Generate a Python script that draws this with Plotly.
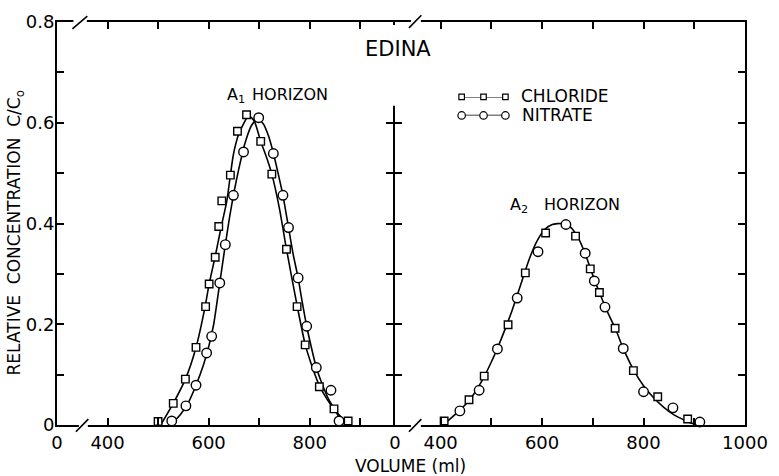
import plotly.graph_objects as go

# ---------------- data ----------------
# A1 horizon, measured points
A1_CL_VOL = [500, 530, 554, 575, 594, 601, 613, 620, 626, 643, 657, 675, 703, 725, 754, 775, 791, 819, 848, 876]
A1_CL_C = [0.007, 0.043, 0.091, 0.154, 0.235, 0.28, 0.333, 0.394, 0.445, 0.496, 0.583, 0.616, 0.563, 0.498,
           0.349, 0.235, 0.159, 0.076, 0.032, 0.008]
A1_NO_VOL = [527, 555, 575, 596, 606, 622, 633, 649, 669, 699, 728, 747, 758, 777, 794, 813, 842, 858]
A1_NO_C = [0.008, 0.038, 0.079, 0.143, 0.176, 0.282, 0.358, 0.456, 0.542, 0.61, 0.539, 0.456, 0.392, 0.292,
           0.196, 0.114, 0.069, 0.008]
# A1 horizon, fitted curves
A1_CL_FIT_VOL = [505, 530, 554, 575, 593, 601, 613, 625, 636, 643, 649, 659, 669, 679, 690, 703, 715, 725,
                 740, 754, 775, 791, 805, 819, 835, 848, 862, 878]
A1_CL_FIT_C = [0.0, 0.043, 0.091, 0.154, 0.235, 0.28, 0.335, 0.394, 0.445, 0.496, 0.537, 0.576, 0.598, 0.614,
               0.604, 0.563, 0.53, 0.498, 0.43, 0.349, 0.237, 0.16, 0.115, 0.078, 0.05, 0.032, 0.016, 0.0]
A1_NO_FIT_VOL = [525, 545, 560, 575, 590, 600, 610, 622, 633, 641, 649, 660, 672, 685, 697, 708, 718, 728,
                 738, 747, 758, 767, 777, 785, 794, 803, 813, 825, 838, 850, 860, 870]
A1_NO_FIT_C = [0.0, 0.022, 0.045, 0.079, 0.12, 0.155, 0.2, 0.282, 0.358, 0.41, 0.456, 0.51, 0.56, 0.595, 0.608,
               0.598, 0.575, 0.54, 0.497, 0.456, 0.392, 0.34, 0.292, 0.245, 0.196, 0.155, 0.114, 0.08, 0.05,
               0.03, 0.012, 0.0]

# A2 horizon, measured points
A2_CL_VOL = [407, 456, 486, 533, 567, 607, 666, 695, 713, 744, 780, 828, 887]
A2_CL_C = [0.008, 0.05, 0.097, 0.199, 0.302, 0.381, 0.375, 0.31, 0.263, 0.192, 0.108, 0.056, 0.012]
A2_NO_VOL = [438, 476, 512, 551, 592, 647, 685, 703, 724, 760, 800, 858, 911]
A2_NO_C = [0.028, 0.069, 0.151, 0.252, 0.344, 0.398, 0.341, 0.286, 0.234, 0.152, 0.066, 0.034, 0.006]
# A2 horizon, fitted curve
A2_FIT_VOL = [405, 430, 455, 480, 500, 520, 540, 560, 575, 590, 605, 620, 640, 655, 670, 685, 700, 715, 730,
              745, 760, 780, 800, 820, 840, 860, 880, 900, 912]
A2_FIT_C = [0.0, 0.022, 0.047, 0.085, 0.125, 0.172, 0.225, 0.285, 0.33, 0.365, 0.388, 0.398, 0.4, 0.394, 0.374,
            0.34, 0.297, 0.258, 0.222, 0.19, 0.152, 0.11, 0.078, 0.054, 0.035, 0.02, 0.01, 0.002, 0.0]

# axes / ticks
LEFT_XTICKS = [300, 400, 500, 600, 700, 800, 900]
LEFT_XLABELS = ["0", "400", "", "600", "", "800", ""]
RIGHT_XTICKS = [310, 400, 500, 600, 700, 800, 900, 1000]
RIGHT_XLABELS = ["0", "400", "", "600", "", "800", "", "1000"]
Y_TICKS = [0, 0.1, 0.2, 0.3, 0.4, 0.5, 0.6, 0.7, 0.8]
Y_LABELS = ["0", "", "0.2", "", "0.4", "", "0.6", "", "0.8"]
LEGEND_KEY_X = [0, 1, 2]
SERIES = ["CHLORIDE", "NITRATE"]

# ---------------- geometry helpers ----------------
W, H = 779, 476
ML, MR, MT, MB = 57, 30, 11, 51
PW = W - ML - MR
PH = H - MT - MB


def px(xp):
    return (xp - ML) / PW


def py(yp):
    return (H - MB - yp) / PH


LW = 1.8
LEFT_END = px(396 - LW / 2)
RIGHT_START = px(396 + LW / 2)
FONT = "DejaVu Sans"

fig = go.Figure()

line_style = dict(color="black", width=1.6, shape="spline", smoothing=0.6)
sq = dict(symbol="square", size=7.5, color="white", line=dict(color="black", width=1.4))
ci = dict(symbol="circle", size=9.5, color="white", line=dict(color="black", width=1.4))

# curves
fig.add_trace(go.Scatter(x=A1_CL_FIT_VOL, y=A1_CL_FIT_C, mode="lines", line=line_style,
                         xaxis="x", yaxis="y", showlegend=False, hoverinfo="skip"))
fig.add_trace(go.Scatter(x=A1_NO_FIT_VOL, y=A1_NO_FIT_C, mode="lines", line=line_style,
                         xaxis="x", yaxis="y", showlegend=False, hoverinfo="skip"))
fig.add_trace(go.Scatter(x=A2_FIT_VOL, y=A2_FIT_C, mode="lines", line=line_style,
                         xaxis="x2", yaxis="y2", showlegend=False, hoverinfo="skip"))
# points
fig.add_trace(go.Scatter(x=A1_CL_VOL, y=A1_CL_C, mode="markers", marker=sq, name=SERIES[0],
                         xaxis="x", yaxis="y", showlegend=False, cliponaxis=False))
fig.add_trace(go.Scatter(x=A1_NO_VOL, y=A1_NO_C, mode="markers", marker=ci, name=SERIES[1],
                         xaxis="x", yaxis="y", showlegend=False, cliponaxis=False))
fig.add_trace(go.Scatter(x=A2_CL_VOL, y=A2_CL_C, mode="markers", marker=sq, name=SERIES[0],
                         xaxis="x2", yaxis="y2", showlegend=False, cliponaxis=False))
fig.add_trace(go.Scatter(x=A2_NO_VOL, y=A2_NO_C, mode="markers", marker=ci, name=SERIES[1],
                         xaxis="x2", yaxis="y2", showlegend=False, cliponaxis=False))

# legend keys (drawn on a hidden overlay axis)
fig.add_trace(go.Scatter(x=LEGEND_KEY_X, y=[1] * 3, mode="lines+markers",
                         line=dict(color="black", width=1.3),
                         marker=dict(symbol="square", size=5.5, color="white",
                                     line=dict(color="black", width=1.2)),
                         xaxis="x3", yaxis="y3", showlegend=False, cliponaxis=False))
fig.add_trace(go.Scatter(x=LEGEND_KEY_X, y=[0] * 3, mode="lines+markers",
                         line=dict(color="black", width=1.3),
                         marker=dict(symbol="circle", size=7.5, color="white",
                                     line=dict(color="black", width=1.2)),
                         xaxis="x3", yaxis="y3", showlegend=False, cliponaxis=False))

axis_common = dict(showline=True, linecolor="black", linewidth=LW, ticks="inside", ticklen=7,
                   tickwidth=1.8, tickcolor="black", mirror="ticks", showgrid=False, zeroline=False,
                   tickfont=dict(family=FONT, size=18, color="black"))

fig.update_layout(
    width=W, height=H,
    margin=dict(l=ML, r=MR, t=MT, b=MB),
    paper_bgcolor="white", plot_bgcolor="white",
    xaxis=dict(domain=[0, LEFT_END], range=[300, 965], tickmode="array", tickvals=LEFT_XTICKS,
               ticktext=LEFT_XLABELS, anchor="y", **axis_common),
    yaxis=dict(domain=[0, 1], range=[0, 0.8], tickmode="array", tickvals=Y_TICKS, ticktext=Y_LABELS,
               anchor="x", ticklabelstandoff=-3, **axis_common),
    xaxis2=dict(domain=[RIGHT_START, 1], range=[310, 1000], tickmode="array", tickvals=RIGHT_XTICKS,
                ticktext=RIGHT_XLABELS, anchor="y2", **axis_common),
    yaxis2=dict(domain=[0, 1], range=[0, 0.8], tickmode="array", tickvals=Y_TICKS,
                showticklabels=False, anchor="x2", **axis_common),
    xaxis3=dict(domain=[px(464), px(508)], range=[0, 2], visible=False, anchor="y3"),
    yaxis3=dict(domain=[py(107), py(88)], range=[0, 1], visible=False, anchor="x3"),
    showlegend=False,
)

# ---------------- decorations: axis breaks, divider gap ----------------
shapes = []


def white_rect(x0, x1, y0, y1):
    shapes.append(dict(type="rect", xref="paper", yref="paper", x0=px(x0), x1=px(x1), y0=py(y1), y1=py(y0),
                       fillcolor="white", line=dict(width=0), layer="above"))


def slash(x0, y0, x1, y1):
    shapes.append(dict(type="line", xref="paper", yref="paper", x0=px(x0), y0=py(y0), x1=px(x1), y1=py(y1),
                       line=dict(color="black", width=1.6), layer="above"))


white_rect(386, 406, 14, 97)          # divider only starts just above 0.6
white_rect(79, 88, 421, 429)           # left bottom break
slash(76, 432, 88.5, 419)
white_rect(73.5, 87, 7, 15)            # left top break
slash(72.5, 18, 87.5, 5)
white_rect(413, 423, 421, 429)         # right bottom break
slash(411, 432, 423.5, 419)
white_rect(413, 423, 7, 15)            # right top break
slash(411, 17, 423.5, 4)
fig.update_layout(shapes=shapes)

# ---------------- text ----------------
ann = []


def text(x, y, s, size, xanchor="left", angle=0):
    ann.append(dict(xref="paper", yref="paper", x=px(x), y=py(y), text=s, showarrow=False,
                    xanchor=xanchor, yanchor="middle", textangle=angle,
                    font=dict(family=FONT, size=size, color="black")))


text(400, 39, "EDINA", 21, "center")
text(226, 87, "A<sub>1</sub>", 16)
text(251, 85, "HORIZON", 16)
text(511, 200, "A<sub>2</sub>", 16)
text(545, 198, "HORIZON", 16)
text(522, 87, SERIES[0], 17)
text(523, 107, SERIES[1], 17)
text(413, 467, "VOLUME (ml)", 17, "center")
text(15, 228, "RELATIVE\u00a0\u00a0CONCENTRATION\u00a0\u00a0C/C<sub>o</sub>", 17, "center", -90)
fig.update_layout(annotations=ann)

fig.write_html("out.html")
